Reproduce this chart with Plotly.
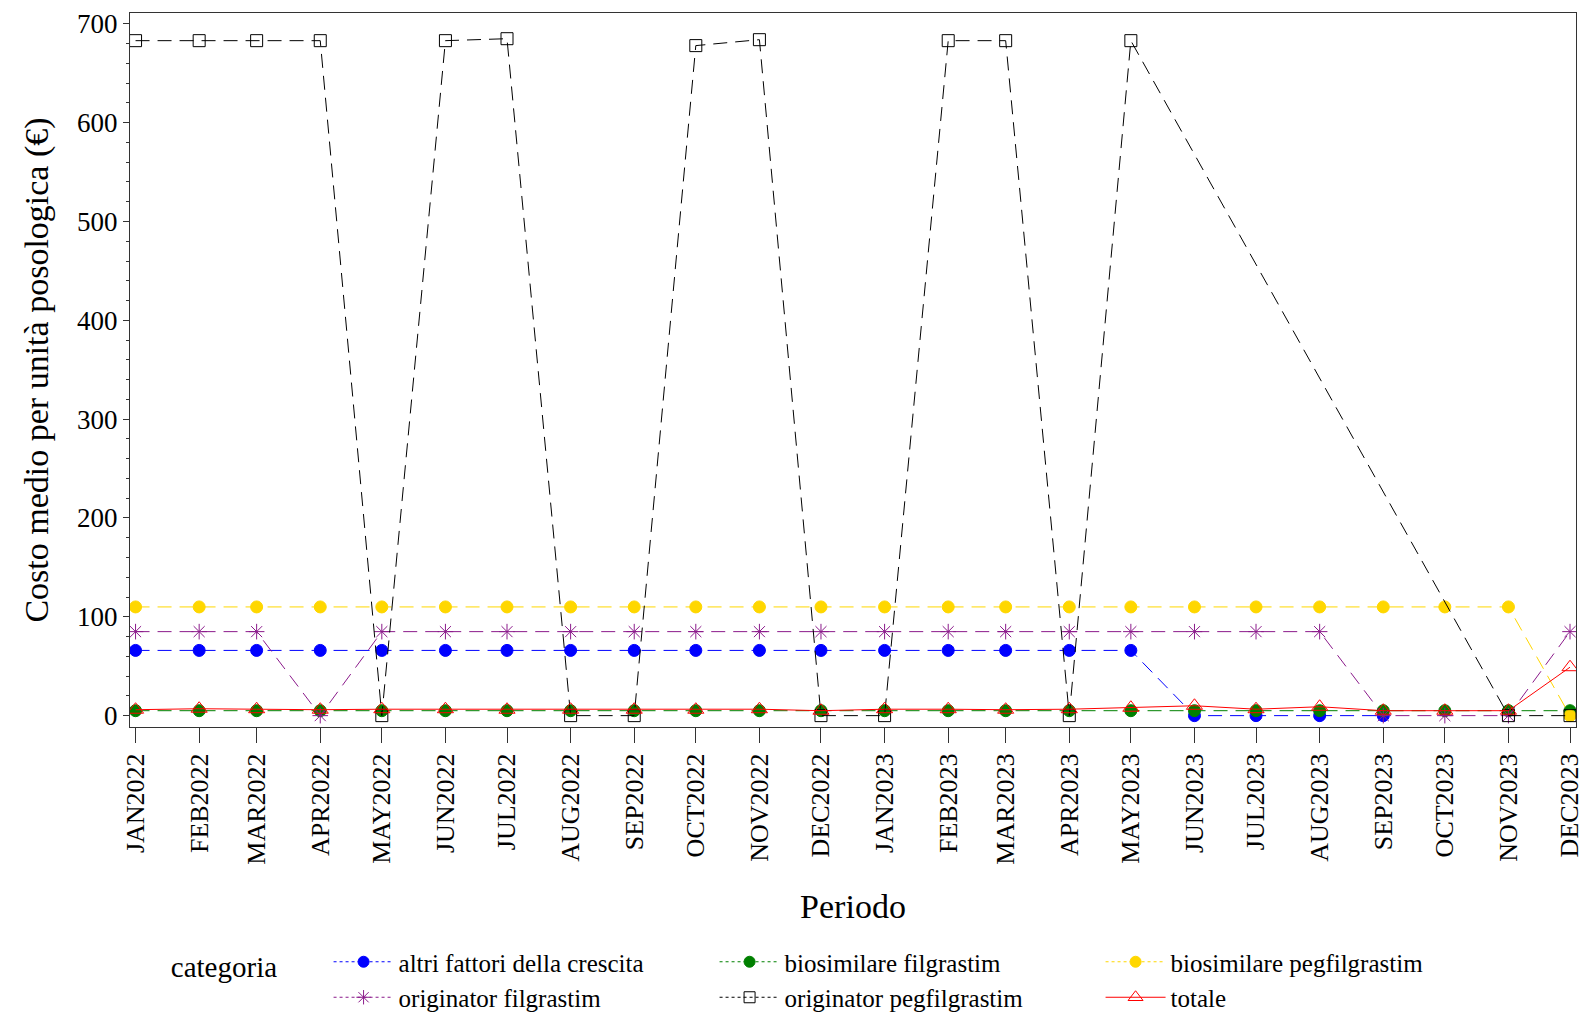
import plotly.graph_objects as go

months = ["2022-01-01", "2022-02-01", "2022-03-01", "2022-04-01", "2022-05-01", "2022-06-01",
          "2022-07-01", "2022-08-01", "2022-09-01", "2022-10-01", "2022-11-01", "2022-12-01",
          "2023-01-01", "2023-02-01", "2023-03-01", "2023-04-01", "2023-05-01", "2023-06-01",
          "2023-07-01", "2023-08-01", "2023-09-01", "2023-10-01", "2023-11-01", "2023-12-01"]
tick_labels = ["JAN2022", "FEB2022", "MAR2022", "APR2022", "MAY2022", "JUN2022", "JUL2022",
               "AUG2022", "SEP2022", "OCT2022", "NOV2022", "DEC2022", "JAN2023", "FEB2023",
               "MAR2023", "APR2023", "MAY2023", "JUN2023", "JUL2023", "AUG2023", "SEP2023",
               "OCT2023", "NOV2023", "DEC2023"]

altri_fattori = [66, 66, 66, 66, 66, 66, 66, 66, 66, 66, 66, 66,
                 66, 66, 66, 66, 66, 0, 0, 0, 0, None, None, None]
biosimilare_filgrastim = [5, 5, 5, 5, 5, 5, 5, 5, 5, 5, 5, 5,
                          5, 5, 5, 5, 5, 5, 5, 5, 5, 5, 5, 5]
biosimilare_pegfilgrastim = [110, 110, 110, 110, 110, 110, 110, 110, 110, 110, 110, 110,
                             110, 110, 110, 110, 110, 110, 110, 110, 110, 110, 110, 0]
originator_filgrastim = [85, 85, 85, 0, 85, 85, 85, 85, 85, 85, 85, 85,
                         85, 85, 85, 85, 85, 85, 85, 85, 0, 0, 0, 85]
originator_pegfilgrastim = [683, 683, 683, 683, 0, 683, 685, 0, 0, 678, 684, 0,
                            0, 683, 683, 0, 683, None, None, None, None, None, 0, 0]
totale = [6, 7, 6.5, 6, 6.5, 6.5, 6, 6, 6, 6, 6.5, 5,
          6.5, 6.5, 6, 6.5, 8, 10, 6.5, 9, 5, 5, 5, 49]

FONT = "Liberation Serif"
DASH = "14px,8px"

series = [
    ("altri fattori della crescita", altri_fattori, "#0000FF", "circle", DASH, 12),
    ("biosimilare filgrastim", biosimilare_filgrastim, "#008000", "circle", DASH, 12),
    ("biosimilare pegfilgrastim", biosimilare_pegfilgrastim, "#FFD700", "circle", DASH, 12),
    ("originator filgrastim", originator_filgrastim, "#8B1A8B", "asterisk-open", DASH, 13),
    ("originator pegfilgrastim", originator_pegfilgrastim, "#000000", "square-open", DASH, 12),
    ("totale", totale, "#FF0000", "triangle-up-open", "solid", 14),
]

fig = go.Figure()
for name, vals, color, sym, dash, size in series:
    fig.add_trace(go.Scatter(
        x=months, y=vals, name=name, mode="lines+markers",
        connectgaps=True, showlegend=False, legendgroup=name,
        line=dict(color=color, width=1, dash=dash),
        marker=dict(symbol=sym, size=size, color=color,
                    line=dict(color=color, width=1)),
    ))

# legend entries (dotted line style as in the reference key)
for name, vals, color, sym, dash, size in series:
    fig.add_trace(go.Scatter(
        x=[None], y=[None], name=name, mode="lines+markers",
        showlegend=True, legendgroup=name,
        line=dict(color=color, width=1, dash="solid" if dash == "solid" else "dot"),
        marker=dict(symbol=sym, size=size - 1, color=color,
                    line=dict(color=color, width=1)),
    ))

fig.update_layout(
    width=1585, height=1012,
    margin=dict(l=130, r=9, t=13, b=285, autoexpand=False),
    paper_bgcolor="white", plot_bgcolor="white",
    font=dict(family=FONT, color="black", size=26),
    showlegend=True,
    legend=dict(
        orientation="h", xref="container", yref="container",
        x=0.1065, xanchor="left", y=1 - 939 / 1012, yanchor="top",
        title=dict(text="categoria\u00a0\u00a0\u00a0\u00a0\u00a0\u00a0", side="left",
                   font=dict(family=FONT, size=29)),
        font=dict(family=FONT, size=25),
        itemwidth=60, entrywidth=311, entrywidthmode="pixels",
        tracegroupgap=0, itemsizing="trace",
        bgcolor="rgba(0,0,0,0)",
    ),
)

fig.update_xaxes(
    type="date",
    range=["2021-12-29 07:00", "2023-12-03 22:00"],
    tickmode="array", tickvals=months, ticktext=tick_labels,
    tickangle=-90, ticks="outside", ticklen=15, tickcolor="#333",
    tickfont=dict(family=FONT, size=26),
    showline=True, linecolor="#333", linewidth=1, mirror=True,
    showgrid=False, zeroline=False,
    title=dict(text="Periodo", font=dict(family=FONT, size=34), standoff=30),
)
fig.update_yaxes(
    range=[-11.5, 711],
    tickmode="linear", tick0=0, dtick=100,
    ticks="outside", ticklen=6, tickcolor="#333",
    minor=dict(ticks="outside", ticklen=3, dtick=20, tick0=0, tickcolor="#333"),
    tickfont=dict(family=FONT, size=27),
    showline=True, linecolor="#333", linewidth=1, mirror=True,
    showgrid=False, zeroline=False,
    title=dict(text="Costo medio per unità posologica (€)", font=dict(family=FONT, size=34),
               standoff=18),
)

fig.write_html(
    "out.html",
    config={"displayModeBar": False},
    post_script="document.body.style.margin='0';document.body.style.overflow='hidden';",
)
